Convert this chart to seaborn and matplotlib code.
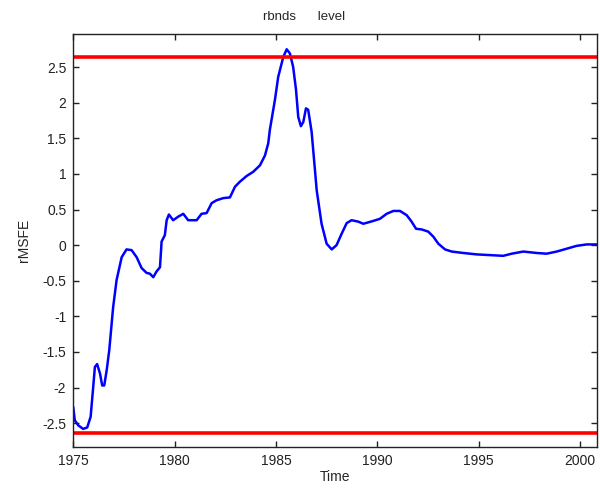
import numpy as np
import pandas as pd
import seaborn as sns
import matplotlib
matplotlib.use('Agg')
import matplotlib.pyplot as plt

# values
years = [1975.00, 1975.08, 1975.25, 1975.49, 1975.69, 1975.86, 1975.96, 1976.07,
         1976.18, 1976.32, 1976.43, 1976.53, 1976.65, 1976.78, 1976.97, 1977.14,
         1977.39, 1977.63, 1977.88, 1978.13, 1978.37, 1978.62, 1978.78, 1978.95,
         1979.11, 1979.28, 1979.36, 1979.52, 1979.61, 1979.72, 1979.93, 1980.18,
         1980.43, 1980.67, 1981.09, 1981.33, 1981.58, 1981.83, 1982.07, 1982.40,
         1982.73, 1982.98, 1983.22, 1983.55, 1983.88, 1984.21, 1984.46, 1984.62,
         1984.70, 1984.95, 1985.11, 1985.36, 1985.53, 1985.69, 1985.85, 1985.99,
         1986.10, 1986.23, 1986.35, 1986.48, 1986.59, 1986.76, 1987.01, 1987.25,
         1987.50, 1987.75, 1987.99, 1988.24, 1988.49, 1988.73, 1989.06, 1989.31,
         1989.80, 1990.13, 1990.46, 1990.79, 1991.12, 1991.45, 1991.69, 1991.91,
         1992.19, 1992.51, 1992.76, 1993.01, 1993.34, 1993.67, 1994.24, 1994.90,
         1995.56, 1996.21, 1996.63, 1997.20, 1997.86, 1998.35, 1998.85, 1999.34,
         1999.83, 2000.33, 2000.82]
rmsfe = [-2.27, -2.46, -2.53, -2.58, -2.56, -2.41, -2.08, -1.71,
         -1.67, -1.80, -1.97, -1.97, -1.76, -1.47, -0.87, -0.49,
         -0.17, -0.06, -0.07, -0.17, -0.32, -0.39, -0.40, -0.45,
         -0.37, -0.31, 0.05, 0.14, 0.35, 0.43, 0.35, 0.40,
         0.44, 0.35, 0.35, 0.44, 0.45, 0.59, 0.63, 0.66,
         0.67, 0.82, 0.89, 0.97, 1.03, 1.12, 1.26, 1.43,
         1.62, 2.04, 2.36, 2.64, 2.75, 2.69, 2.50, 2.18,
         1.80, 1.67, 1.73, 1.92, 1.90, 1.59, 0.77, 0.30,
         0.02, -0.06, 0.00, 0.16, 0.31, 0.35, 0.33, 0.30,
         0.34, 0.37, 0.44, 0.48, 0.48, 0.42, 0.33, 0.23,
         0.22, 0.19, 0.12, 0.02, -0.06, -0.09, -0.11, -0.13,
         -0.14, -0.15, -0.12, -0.09, -0.11, -0.12, -0.09, -0.05,
         -0.01, 0.01, 0.01]
bound = 2.64
xticks = [1975, 1980, 1985, 1990, 1995, 2000]
yticks = [-2.5, -2, -1.5, -1, -0.5, 0, 0.5, 1, 1.5, 2, 2.5]
ytick_labels = ['-2.5', '-2', '-1.5', '-1', '-0.5', '0', '0.5', '1', '1.5', '2', '2.5']

df = pd.DataFrame({'Time': years, 'rMSFE': rmsfe})

sns.set_style('ticks')
plt.rcParams['font.family'] = ['Liberation Sans', 'DejaVu Sans']

fig = plt.figure(figsize=(6, 4.88), dpi=100)
ax = fig.add_axes([0.122, 0.0846, 0.8725, 0.8451])

sns.lineplot(data=df, x='Time', y='rMSFE', color='#0000ff', linewidth=1.8, ax=ax)
ax.axhline(bound, color='#ff0000', linewidth=2.6)
ax.axhline(-bound, color='#ff0000', linewidth=2.6)

ax.set_xlim(1975, 2000.82)
ax.set_ylim(-2.83, 2.96)
ax.set_xticks(xticks)
ax.set_yticks(yticks)
ax.set_yticklabels(ytick_labels)
ax.tick_params(direction='in', length=4, width=1, top=True, right=True,
               labelsize=10, colors='#222222', pad=5)
for s in ax.spines.values():
    s.set_linewidth(1)
    s.set_color('#222222')

ax.set_xlabel('Time', fontsize=10, labelpad=2)
ax.set_ylabel('rMSFE', fontsize=10, labelpad=8)
fig.text(0.507, 0.965, 'rbnds      level', ha='center', va='center', fontsize=9.5)

fig.savefig('out.png', dpi=100)
